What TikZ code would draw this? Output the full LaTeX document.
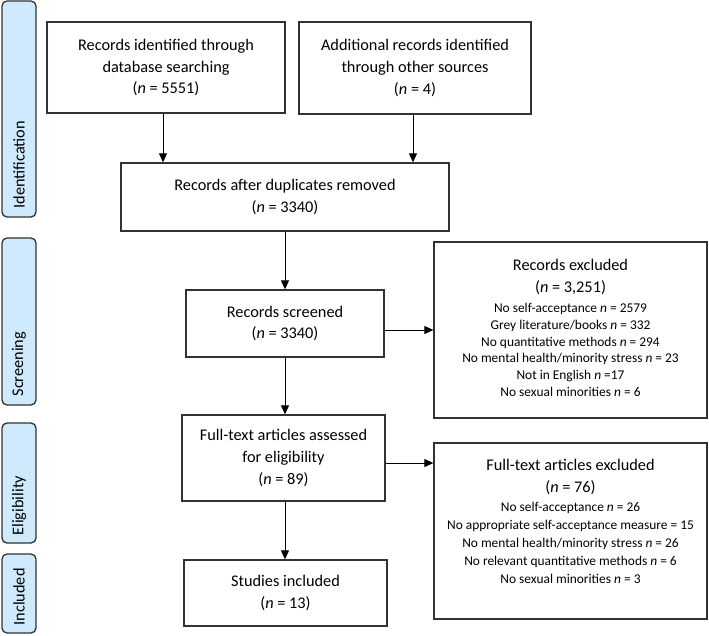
\documentclass[tikz,border=0pt]{standalone}
\usepackage{fontspec}
\setmainfont{Carlito}
\usetikzlibrary{arrows.meta}
\definecolor{sidefill}{RGB}{206,234,252}
\definecolor{edge}{RGB}{50,50,50}
\newcommand{\bigf}{\fontsize{16.3}{21.7}\selectfont}
\newcommand{\smf}{\fontsize{13.4}{16.7}\selectfont}
\begin{document}
\begin{tikzpicture}[x=1pt,y=-1pt,
  box/.style={draw=edge, line width=1.3pt, align=center, inner sep=0pt, font=\bigf},
  listbox/.style={draw=edge, line width=1.3pt, inner sep=0pt, font=\smf},
  side/.style={draw=edge, line width=1.3pt, fill=sidefill, rounded corners=5pt, inner sep=0pt, minimum width=34pt},
  sidelabel/.style={rotate=90, anchor=west, inner sep=0pt, font=\bigf},
  arr/.style={-{Triangle[length=9pt,width=8pt]}, line width=1pt, black}]
\useasboundingbox (0,0) rectangle (709,635);

% side phase boxes
\node[side, minimum height=216pt] (s1) at (19,109) {};
\node[sidelabel] (l1) at ([yshift=9pt]s1.south) {Identification};
\node[side, minimum height=167pt] (s2) at (19,321.5) {};
\node[sidelabel] (l2) at ([yshift=9pt]s2.south) {Screening};
\node[side, minimum height=120pt] (s3) at (19,483) {};
\node[sidelabel] (l3) at ([yshift=8pt]s3.south) {Eligibility};
\node[side, minimum height=79pt] (s4) at (19,593.5) {};
\node[sidelabel] (l4) at ([yshift=8pt]s4.south) {Included};

% main boxes
\node[box, minimum width=238pt, minimum height=91pt] (A) at (166,67.5)
  {Records identified through\\ database searching\\ (\textit{n} = 5551)};
\node[box, minimum width=232pt, minimum height=92pt] (B) at (415,68)
  {Additional records identified\\ through other sources\\ (\textit{n} = 4)};
\node[box, minimum width=328pt, minimum height=68pt] (C) at (285,197)
  {Records after duplicates removed\\ (\textit{n} = 3340)};
\node[box, minimum width=198pt, minimum height=67pt] (D) at (285,323.5)
  {Records screened\\ (\textit{n} = 3340)};
\node[listbox, minimum width=273pt, minimum height=176pt] (E) at (570.5,330)
  {\begin{tabular}{@{}c@{}}
   {\bigf Records excluded}\\[5.3pt]
   {\bigf (\textit{n} = 3,251)}\\[3.3pt]
   No self-acceptance \textit{n} = 2579\\
   Grey literature/books \textit{n} = 332\\
   No quantitative methods \textit{n} = 294\\
   No mental health/minority stress \textit{n} = 23\\
   Not in English \textit{n} =17\\
   No sexual minorities \textit{n} = 6
   \end{tabular}};
\node[box, minimum width=203pt, minimum height=86pt] (F) at (283.5,458)
  {Full-text articles assessed\\ for eligibility\\ (\textit{n} = 89)};
\node[listbox, minimum width=273pt, minimum height=176pt] (G) at (570.5,531)
  {\begin{tabular}{@{}c@{}}
   {\bigf Full-text articles excluded}\\[4.3pt]
   {\bigf (\textit{n} = 76)}\\[2.3pt]
   No self-acceptance \textit{n} = 26\\[1.3pt]
   No appropriate self-acceptance measure = 15\\[1.3pt]
   No mental health/minority stress \textit{n} = 26\\[1.3pt]
   No relevant quantitative methods \textit{n} = 6\\[1.3pt]
   No sexual minorities \textit{n} = 3\\[14.6pt]
   \end{tabular}};
\node[box, minimum width=203pt, minimum height=66pt] (H) at (285.5,593)
  {Studies included\\ (\textit{n} = 13)};

% connectors
\draw[arr] ([xshift=-3pt]A.south) -- ([xshift=-3pt]A.south |- C.north);
\draw[arr] ([xshift=-2pt]B.south) -- ([xshift=-2pt]B.south |- C.north);
\draw[arr] (C.south) -- (C.south |- D.north);
\draw[arr] ([yshift=-6.5pt]D.east) -- ([yshift=-6.5pt]D.east -| E.west);
\draw[arr] (D.south) -- (D.south |- F.north);
\draw[arr] ([yshift=-5pt]F.east) -- ([yshift=-5pt]F.east -| G.west);
\draw[arr] (D.south |- F.south) -- (D.south |- H.north);
\end{tikzpicture}
\end{document}
